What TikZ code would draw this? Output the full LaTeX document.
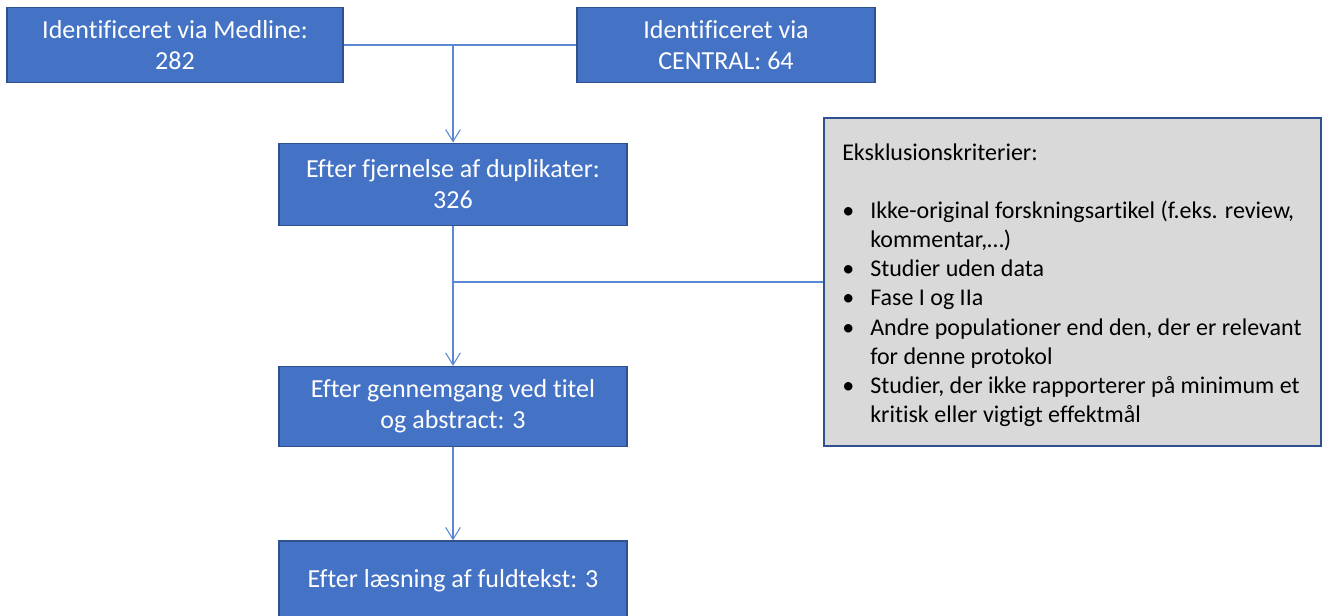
\documentclass[tikz,border=0pt]{standalone}
\usepackage{fontspec}
\setmainfont{Carlito}[Ligatures=NoCommon]
\usepackage{xcolor}
\usepackage{tikz}
\usetikzlibrary{arrows.meta}
\definecolor{boxblue}{HTML}{4472C4}
\definecolor{boxline}{HTML}{2F528F}
\definecolor{lineblue}{HTML}{5B87D4}
\definecolor{critgray}{HTML}{D9D9D9}
\tikzset{
  box/.style={draw=boxline, fill=boxblue, text=white, line width=0.9pt,
    align=center, inner sep=0pt, font=\fontsize{19.5}{23.3}\selectfont},
  kritbox/.style={draw=boxline, fill=critgray, line width=0.9pt, inner sep=0pt},
  krittext/.style={text=black, inner sep=0pt, align=left,
    font=\fontsize{18}{21.8}\selectfont},
  link/.style={draw=lineblue, line width=0.8pt},
  arr/.style={link, -{Straight Barb[length=9pt,width=11pt]}},
}

\begin{document}
\begin{tikzpicture}[x=0.75pt,y=-0.75pt]
  \useasboundingbox (0,0) rectangle (1323,616);
  % boxes
  \node[box, minimum width=252pt, minimum height=56.5pt] (med) at (175,45)
    {Identificeret via Medline:\\282};
  \node[box, minimum width=223.5pt, minimum height=56.5pt] (central) at (726,45)
    {Identificeret via\\CENTRAL: 64};
  \node[box, minimum width=261pt, minimum height=62pt] (dup) at (453,184.5)
    {Efter fjernelse af duplikater:\\326};
  \node[box, minimum width=261pt, minimum height=60pt] (titel) at (453,406.5)
    {Efter gennemgang ved titel\\og abstract: 3};
  \node[box, minimum width=261pt, minimum height=60pt] (fuld) at (453,581)
    {Efter læsning af fuldtekst: 3};
  \node[kritbox, minimum width=372.75pt, minimum height=246pt] (krit) at (1072.5,282) {};
  \node[krittext, anchor=north west] (kritlist) at (842,140) {%
    \begin{tabular}{@{}p{21pt}@{}l@{}}
      \multicolumn{2}{@{}l@{}}{Eksklusionskriterier:}\\
      \\
      \textbullet & Ikke-original forskningsartikel (f.eks. review,\\
                  & kommentar,…)\\
      \textbullet & Studier uden data\\
      \textbullet & Fase I og IIa\\
      \textbullet & Andre populationer end den, der er relevant\\
                  & for denne protokol\\
      \textbullet & Studier, der ikke rapporterer på minimum et\\
                  & kritisk eller vigtigt effektmål
    \end{tabular}};
  % connectors
  \coordinate (join1) at (dup.north |- med.east);
  \coordinate (join2) at (dup.south |- krit.west);
  \draw[link] (med.east) -- (central.west);
  \draw[arr] (join1) -- (dup.north);
  \draw[link] (join2) -- (krit.west);
  \draw[arr] (dup.south) -- (titel.north);
  \draw[arr] (titel.south) -- (fuld.north);
\end{tikzpicture}
\end{document}
